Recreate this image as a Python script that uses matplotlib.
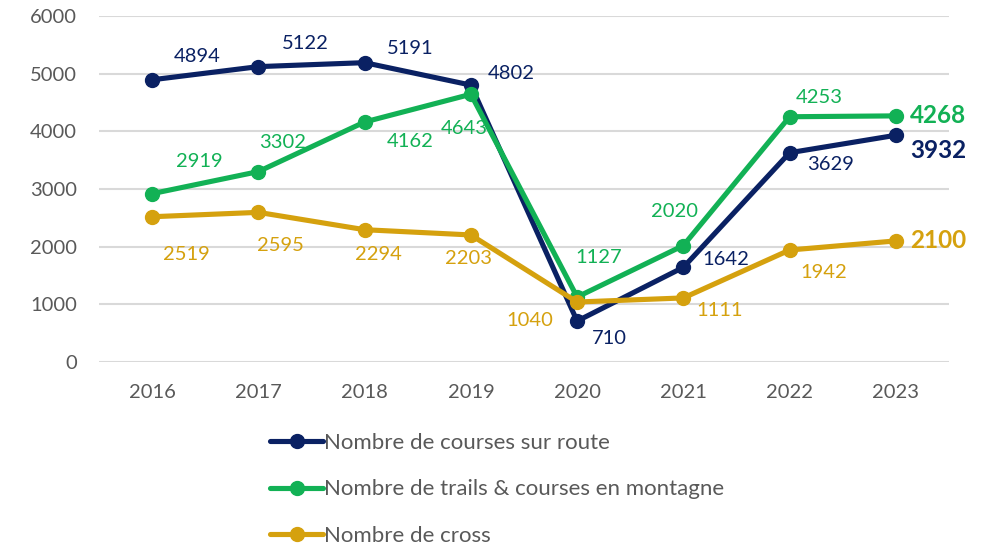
import numpy as np
import matplotlib
matplotlib.use("Agg")
import matplotlib.pyplot as plt
from matplotlib import rcParams

rcParams['font.family'] = ['Lato', 'DejaVu Sans']

years = ['2016', '2017', '2018', '2019', '2020', '2021', '2022', '2023']
route = [4894, 5122, 5191, 4802, 710, 1642, 3629, 3932]
trails = [2919, 3302, 4162, 4643, 1127, 2020, 4253, 4268]
cross = [2519, 2595, 2294, 2203, 1040, 1111, 1942, 2100]
names = ['Nombre de courses sur route',
         'Nombre de trails & courses en montagne',
         'Nombre de cross']

NAVY = '#0A2163'
GREEN = '#12B155'
GOLD = '#D5A10E'
GREY = '#595959'

# label offsets in pixels (dx, dy), y pointing up; last one is the bold end label
off_route = [(45, 23), (47, 23), (46, 14), (40, 12), (32, -17), (42, 8), (41, -12), (14, -15)]
off_trails = [(47, 32), (24, 29), (46, -20), (-7, -34), (22, 40), (-9, 34), (30, 19), (14, 0)]
off_cross = [(34, -38), (22, -33), (14, -25), (-2, -24), (-47, -18), (36, -13), (34, -22), (14, 0)]

fig = plt.figure(figsize=(9.93, 5.45), dpi=100)
ax = fig.add_axes([99/993, 1-362/545, (949-99)/993, (362-16)/545])

x = np.arange(len(years))
series = [(route, NAVY, off_route), (trails, GREEN, off_trails), (cross, GOLD, off_cross)]
for i, (vals, col, offs) in enumerate(series):
    ax.plot(x, vals, color=col, lw=3.7, marker='o', ms=10, label=names[i],
            zorder=3 + i, solid_capstyle='round')
    for j, v in enumerate(vals[:-1]):
        ax.annotate(str(v), (x[j], v), xytext=offs[j], textcoords='offset pixels',
                    ha='center', va='center', color=col, fontsize=14.5, zorder=10)
    ax.annotate(str(vals[-1]), (x[-1], vals[-1]), xytext=offs[-1],
                textcoords='offset pixels', ha='left', va='center', color=col,
                fontsize=17.5, fontweight='bold', zorder=10)

ax.set_xlim(-0.5, len(years) - 0.5)
ax.set_ylim(0, 6000)
ax.set_yticks(np.arange(0, 6001, 1000))
ax.set_xticks(x)
ax.set_xticklabels(years)
ax.tick_params(axis='both', length=0, labelsize=14.5, labelcolor=GREY)
ax.tick_params(axis='y', pad=16)
ax.tick_params(axis='x', pad=16)
ax.grid(axis='y', color='#D9D9D9', lw=1.5)
ax.set_axisbelow(True)
for s in ax.spines.values():
    s.set_visible(False)

handles, labels = ax.get_legend_handles_labels()
leg = fig.legend(handles, labels, loc='center left', bbox_to_anchor=(250/993, 0.102),
                 frameon=False, fontsize=16, handlelength=2.4, handletextpad=0.05,
                 labelspacing=1.2, labelcolor=GREY)

fig.savefig('out.png', dpi=100)
